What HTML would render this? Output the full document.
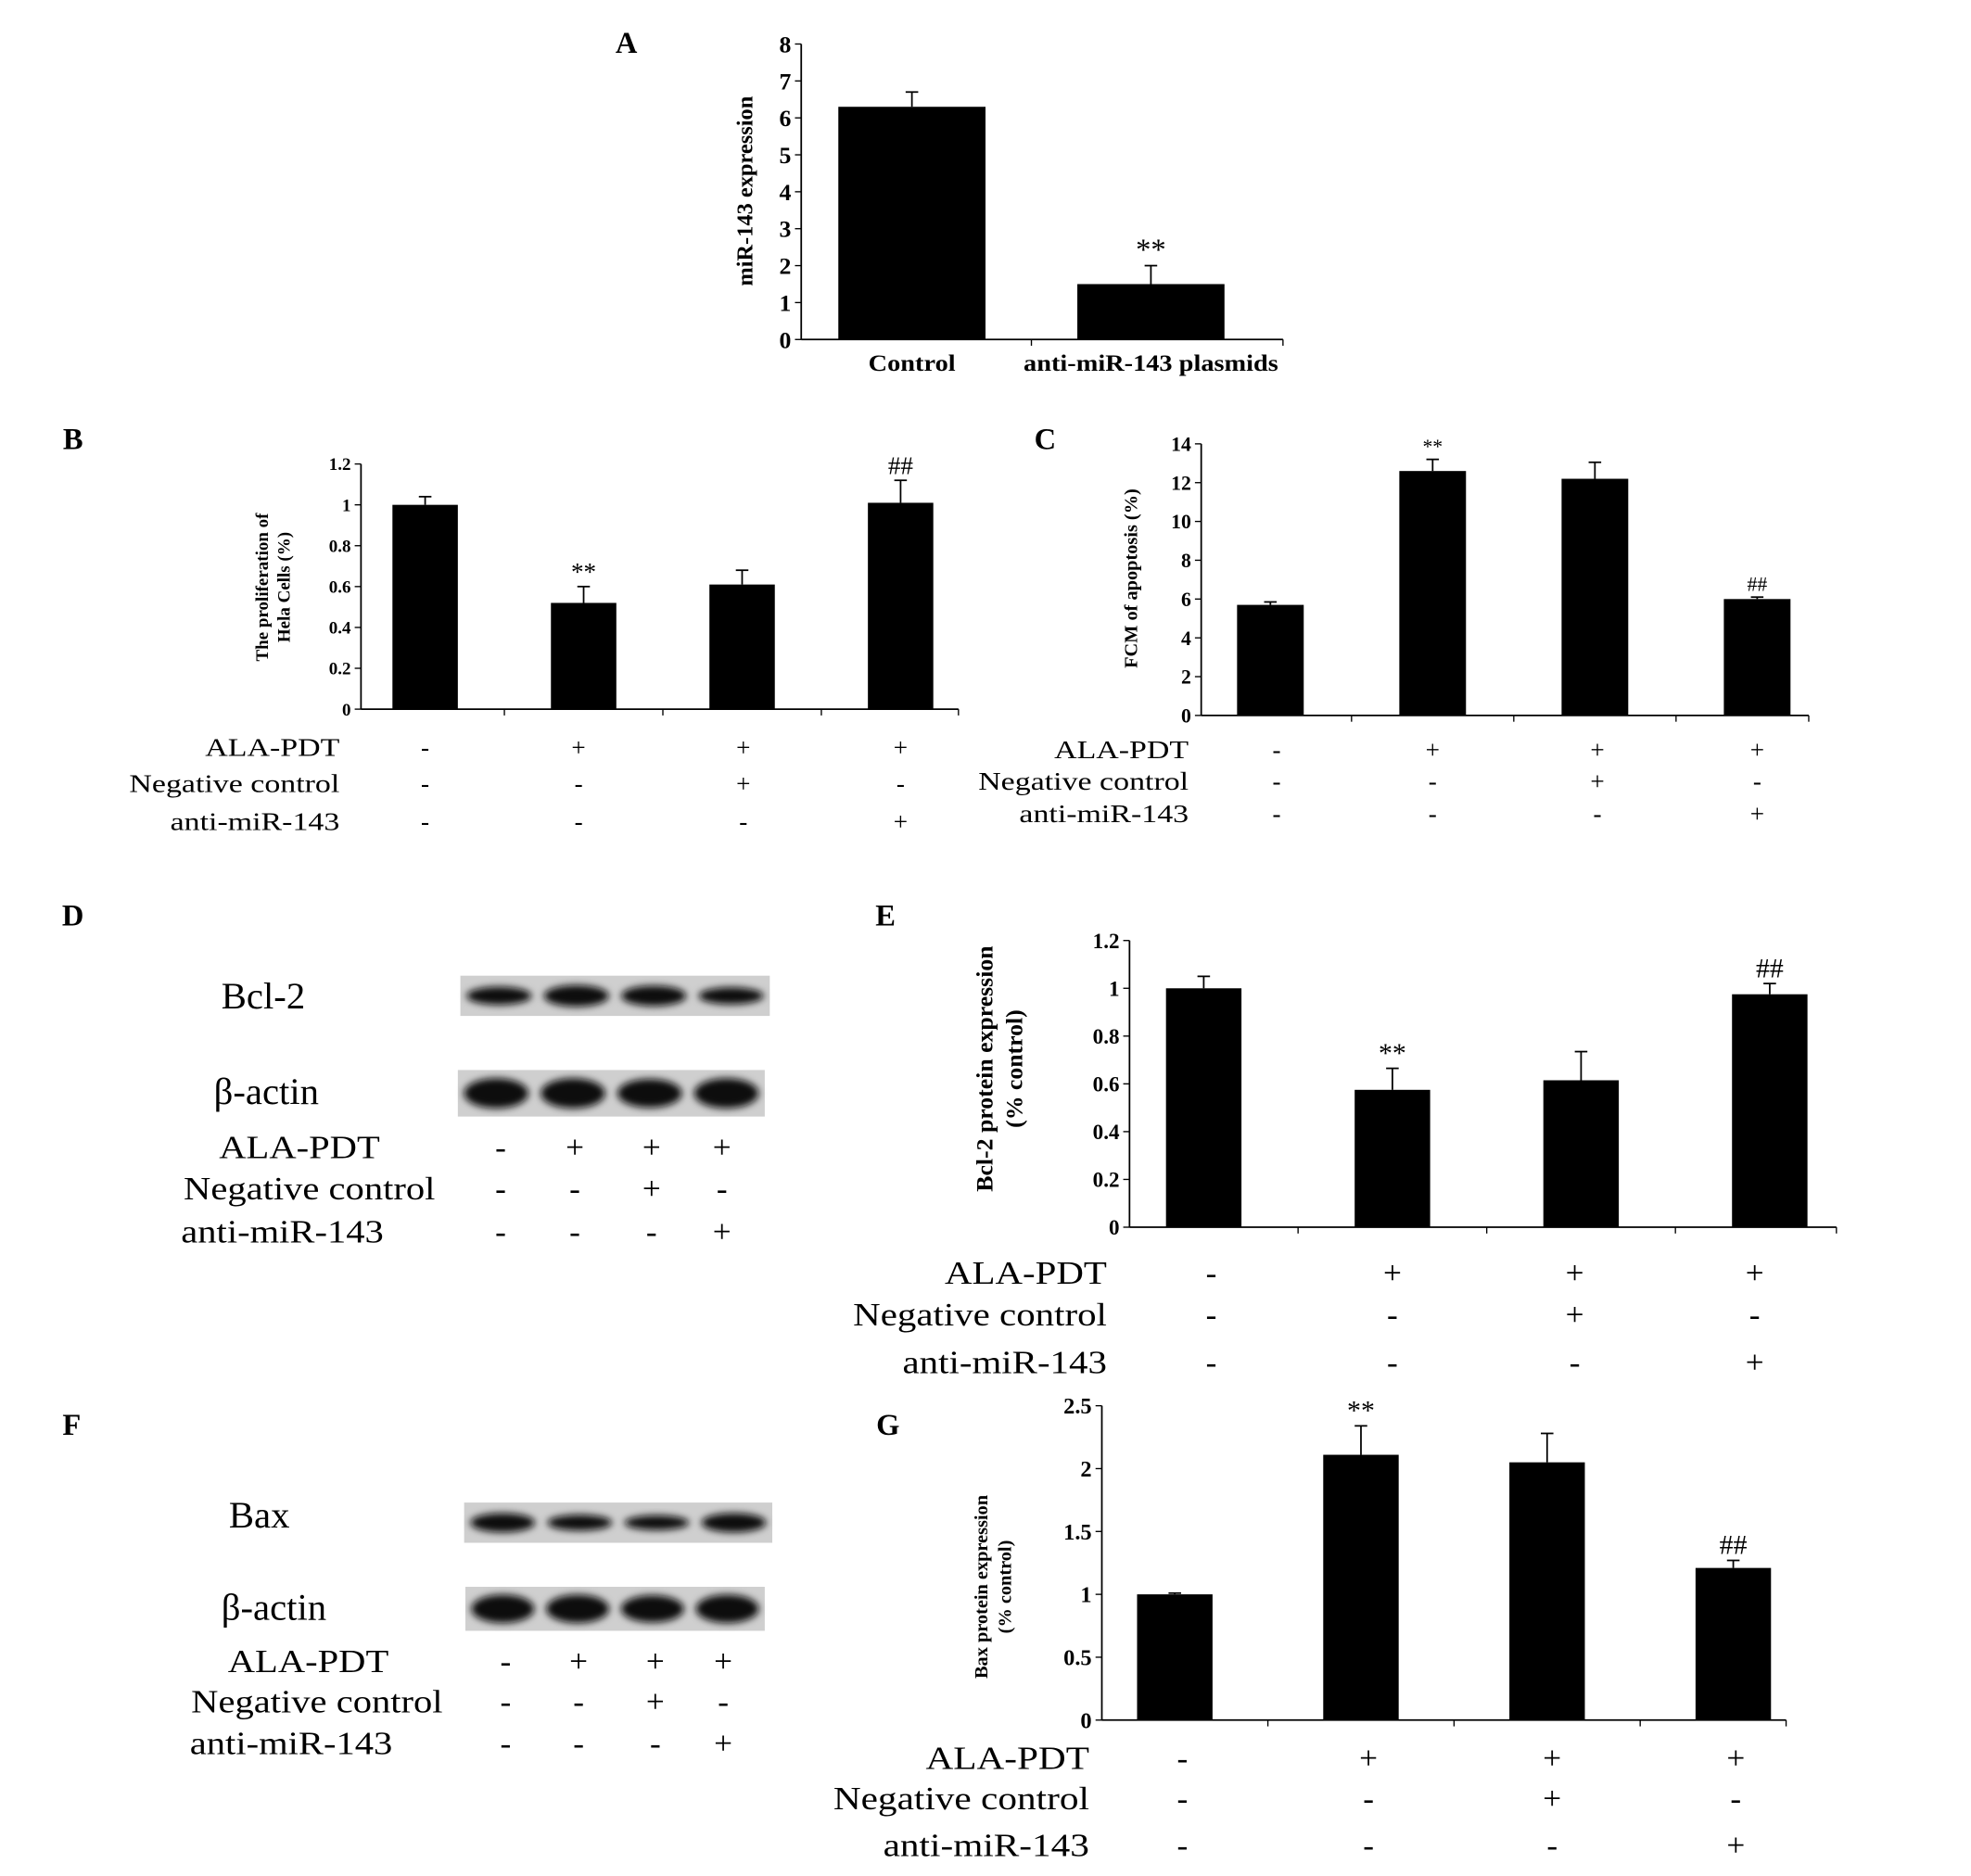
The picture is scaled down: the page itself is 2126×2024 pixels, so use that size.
<!DOCTYPE html>
<html><head><meta charset="utf-8"><style>
html,body{margin:0;padding:0;background:#fff;}
svg{display:block;}
text{font-family:"Liberation Serif",serif;fill:#000;}
</style></head><body>
<svg id="fig" width="2126" height="2024" viewBox="0 0 1567 1492" preserveAspectRatio="none" xmlns="http://www.w3.org/2000/svg">
<defs><filter id="blur" x="-20%" y="-50%" width="140%" height="200%"><feGaussianBlur stdDeviation="3"/></filter></defs>
<rect width="1600" height="1520" fill="#fff"/>
</svg>
<script>
// ---- Data ----
const aCategories = ["Control", "anti-miR-143 plasmids"];
const aValues = [6.3, 1.5];
const aErrors = [6.7, 2.0];
const aTicks = [0,1,2,3,4,5,6,7,8];
const aMarks = ["", "**"];

const bValues = [1.0, 0.52, 0.61, 1.01];
const bErrors = [1.04, 0.60, 0.68, 1.12];
const bTicks = [0,0.2,0.4,0.6,0.8,1,1.2];
const bMarks = ["", "**", "", "##"];

const cValues = [5.7, 12.6, 12.2, 6.0];
const cErrors = [5.85, 13.2, 13.05, 6.1];
const cTicks = [0,2,4,6,8,10,12,14];
const cMarks = ["", "**", "", "##"];

const eValues = [1.0, 0.575, 0.615, 0.975];
const eErrors = [1.05, 0.665, 0.735, 1.02];
const eTicks = [0,0.2,0.4,0.6,0.8,1,1.2];
const eMarks = ["", "**", "", "##"];

const gValues = [1.0, 2.11, 2.05, 1.21];
const gErrors = [1.01, 2.34, 2.28, 1.27];
const gTicks = [0,0.5,1,1.5,2,2.5];
const gMarks = ["", "**", "", "##"];

const rowLabels = ["ALA-PDT", "Negative control", "anti-miR-143"];
const rowSigns = [["-","+","+","+"],["-","-","+","-"],["-","-","-","+"]];

const NS = "http://www.w3.org/2000/svg";
const svg = document.getElementById('fig');
function el(tag, attrs, parent, txt){
  const e = document.createElementNS(NS, tag);
  for (const k in attrs) e.setAttribute(k, attrs[k]);
  if (txt !== undefined) e.textContent = txt;
  (parent||svg).appendChild(e);
  return e;
}
function group(name){
  const g = el('g', {});
  
  
  return g;
}

function chart(o){
  const g = group(o.name);
  const max = o.ticks[o.ticks.length-1];
  const y = v => o.y0 - (v/max)*(o.y0-o.y1);
  const n = o.values.length;
  const cx = i => o.c0 + o.cstep*i;
  const ya = el('line',{x1:o.x0,y1:o.y1,x2:o.x0,y2:o.y0,stroke:'#000','stroke-width':1.3},g);
   
  const xa = el('line',{x1:o.x0,y1:o.y0,x2:o.xEnd,y2:o.y0,stroke:'#000','stroke-width':1.3},g);
   
  for (let i=0;i<n;i++){
    const tx = (i<n-1) ? cx(i)+o.cstep/2 : o.xEnd;
    el('line',{x1:tx,y1:o.y0,x2:tx,y2:o.y0+5,stroke:'#000','stroke-width':1},g);
  }
  o.ticks.forEach(t=>{
    el('line',{x1:o.x0-5,y1:y(t),x2:o.x0,y2:y(t),stroke:'#000','stroke-width':1},g);
    const tl = el('text',{x:o.x0-8,y:y(t)+o.tfs*0.35,'text-anchor':'end','font-size':o.tfs,'font-weight':'bold'},g,String(t));
     
  });
  o.values.forEach((v,i)=>{
    const b = el('rect',{x:cx(i)-o.bw/2,y:y(v),width:o.bw,height:o.y0-y(v),fill:'#000'},g);
     
    const e = o.errors[i];
    el('line',{x1:cx(i),y1:y(v),x2:cx(i),y2:y(e),stroke:'#000','stroke-width':1.3},g);
    el('line',{x1:cx(i)-5,y1:y(e),x2:cx(i)+5,y2:y(e),stroke:'#000','stroke-width':1.3},g);
    if (o.marks[i]) {
      const m = el('text',{x:cx(i),y:y(e)-5,'text-anchor':'middle','font-size':o.mfs},g,o.marks[i]);
       
    }
  });
  const yt = el('text',{transform:`translate(${o.titleX},${o.titleY}) rotate(-90)`,'text-anchor':'middle','font-size':o.titleFs,'font-weight':'bold'},g);
   
  o.title.forEach((t,k)=>{ el('tspan',{x:0,dy:k===0?0:o.titleFs*1.25},yt,t); });
  if (o.cats) o.cats.forEach((c,i)=>{
    const t = el('text',{transform:`translate(${cx(i)},${o.y0+25}) scale(1.1,1)`,'text-anchor':'middle','font-size':19,'font-weight':'bold'},g,c);
     
  });
  return cx;
}

function rows(name, labelX, ys, cols, fs, sx){
  const g = group(name);
  rowLabels.forEach((lab,r)=>{
    const lx = Array.isArray(labelX) ? labelX[r] : labelX;
    const t = el('text',{transform:`translate(${lx},${ys[r]}) scale(${sx},1)`,'text-anchor':'end','font-size':fs},g,lab);
     
    rowSigns[r].forEach((s,i)=>{
      el('text',{x:cols[i],y:ys[r],'text-anchor':'middle','font-size':fs},g,s);
    });
  });
}

function panelLabel(txt,x,y){
  const t = el('text',{x:x,y:y,'text-anchor':'middle','font-size':24,'font-weight':'bold'},svg,txt);
   
}

function blot(name,x,y,w,h,sizes){
  const g = group(name);
  el('rect',{x:x,y:y,width:w,height:h,fill:'#cfcfcf'},g);
  const lane = w/4;
  sizes.forEach((s,i)=>{
    el('ellipse',{cx:x+lane*(i+0.5),cy:y+h/2,rx:lane*0.42,ry:h*0.28*s,fill:'#111',filter:'url(#blur)'},g);
  });
}

panelLabel('A',498,42);
chart({name:'chart-a',x0:637,xEnd:1020,c0:725,cstep:190,y0:270,y1:35,values:aValues,errors:aErrors,ticks:aTicks,marks:aMarks,bw:117,tfs:19,mfs:24,title:['miR-143 expression'],titleX:598,titleY:152,titleFs:18,cats:aCategories});

panelLabel('B',58,357);
chart({name:'chart-b',x0:287,xEnd:762,c0:338,cstep:126,y0:564,y1:369,values:bValues,errors:bErrors,ticks:bTicks,marks:bMarks,bw:52,tfs:14,mfs:20,title:['The proliferation of','Hela Cells (%)'],titleX:213,titleY:467,titleFs:14});
rows('rows-b',270,[601,630,660],[338,460,591,716],20,1.25);

panelLabel('C',831,357);
chart({name:'chart-c',x0:955,xEnd:1438,c0:1010,cstep:129,y0:569,y1:353,values:cValues,errors:cErrors,ticks:cTicks,marks:cMarks,bw:53,tfs:16,mfs:16,title:['FCM of apoptosis (%)'],titleX:904,titleY:460,titleFs:15});
rows('rows-c',945,[603,628,654],[1015,1139,1270,1397],20,1.25);

panelLabel('D',58,736);
blot('bcl2-blot',366,776,246,32,[0.8,0.95,0.9,0.75]);
blot('actin-blot-d',364,851,244,37,[1.15,1.15,1.1,1.15]);
el('text',{x:176,y:802,'font-size':30},svg,'Bcl-2');
el('text',{x:170,y:878,'font-size':30},svg,'β-actin');
rows('rows-d',[302,346,305],[921,954,988],[398,457,518,574],26,1.15);

panelLabel('E',704,736);
chart({name:'chart-e',x0:898,xEnd:1460,c0:957,cstep:150,y0:976,y1:748,values:eValues,errors:eErrors,ticks:eTicks,marks:eMarks,bw:60,tfs:17,mfs:22,title:['Bcl-2 protein expression','(% control)'],titleX:789,titleY:850,titleFs:19});
rows('rows-e',880,[1021,1054,1092],[963,1107,1252,1395],26,1.16);

panelLabel('F',57,1141);
blot('bax-blot',369,1195,245,32,[0.85,0.7,0.65,0.85]);
blot('actin-blot-f',370,1262,238,35,[1.15,1.15,1.1,1.15]);
el('text',{x:182,y:1215,'font-size':30},svg,'Bax');
el('text',{x:176,y:1288,'font-size':30},svg,'β-actin');
rows('rows-f',[309,352,312],[1330,1362,1395],[402,460,521,575],26,1.15);

panelLabel('G',706,1141);
chart({name:'chart-g',x0:876,xEnd:1420,c0:934,cstep:148,y0:1368,y1:1118,values:gValues,errors:gErrors,ticks:gTicks,marks:gMarks,bw:60,tfs:18,mfs:22,title:['Bax protein expression','(% control)'],titleX:785,titleY:1262,titleFs:15});
rows('rows-g',866,[1407,1439,1476],[940,1088,1234,1380],26,1.17);
</script>
</body></html>
